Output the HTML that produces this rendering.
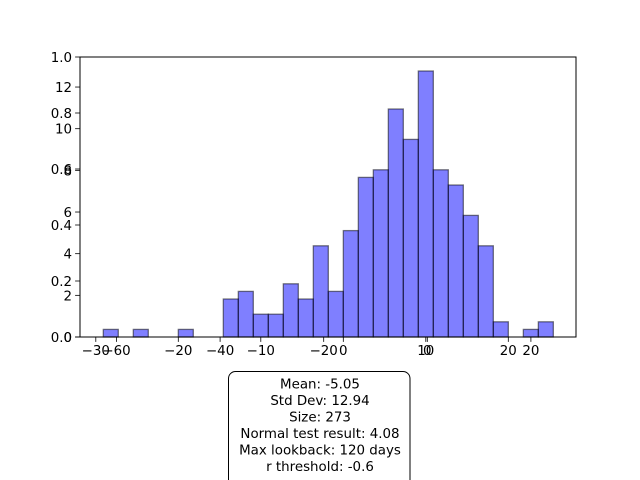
<!DOCTYPE html>
<html><head><meta charset="utf-8"><style>
html,body{margin:0;padding:0;background:#fff;}
svg{display:block;font-family:"DejaVu Sans","Liberation Sans",sans-serif;}
</style></head><body>
<svg id="chart" width="640" height="480" viewBox="0 0 640 480">
<rect x="0" y="0" width="640" height="480" fill="#fff"/>
<g id="bars"></g>
<g id="axes"></g>
<g>
<rect x="228.5" y="371.5" width="181.5" height="116" rx="7" fill="#fff" stroke="#000" stroke-width="1"/>
<g font-size="13.4" text-anchor="middle" fill="#000">
<text x="320" y="388.3">Mean: -5.05</text>
<text x="320" y="405">Std Dev: 12.94</text>
<text x="320" y="421.7">Size: 273</text>
<text x="320" y="438">Normal test result: 4.08</text>
<text x="320" y="454.3">Max lookback: 120 days</text>
<text x="320" y="471">r threshold: -0.6</text>
</g></g>
</svg>
<script>
// histogram data
const binStart = -62.55;
const binWidth = 2.896;
const counts = [1,0,1,0,0,1,0,0,5,6,3,3,7,5,12,6,14,21,22,30,26,35,22,20,16,12,2,0,1,2];
// axis tick labels
const xTicksA = [-30,-20,-10,0,10,20];
const xTicksB = [-60,-40,-20,0,20];
const yTicksFrac = [0.0,0.2,0.4,0.6,0.8,1.0];
const yTicksCount = [0,2,4,6,8,10,12];

const L=80,R=576,T=57,B=337;
const NS='http://www.w3.org/2000/svg';
function xB(v){return 427.3+v*5.18;}
function xA(v){return 343.3+v*8.25;}
function yC(v){return B-v*7.6;}     // hist count axis
function yF(v){return B-v*(B-T);}   // 0..1 axis
function yN(v){return B-v*20.83;}   // 0..12 axis
function mk(tag,attrs,parent){const e=document.createElementNS(NS,tag);for(const k in attrs)e.setAttribute(k,attrs[k]);parent.appendChild(e);return e;}

const gb=document.getElementById('bars');
counts.forEach((c,i)=>{
  if(c<=0)return;
  const x0=xB(binStart+i*binWidth),x1=xB(binStart+(i+1)*binWidth);
  const r=mk('rect',{x:x0,y:yC(c),width:x1-x0,height:B-yC(c),fill:'rgba(0,0,255,0.5)',stroke:'rgba(0,0,0,0.5)','stroke-width':1.3},gb);
  
  
});

const ga=document.getElementById('axes');
const frame=mk('rect',{x:L,y:T,width:R-L,height:B-T,fill:'none',stroke:'#000','stroke-width':1},ga);



function xtick(px,label){
  mk('line',{x1:px,y1:B,x2:px,y2:B+4.9,stroke:'#000','stroke-width':0.8},ga);
  const t=mk('text',{x:px,y:B+18,'font-size':13.4,'text-anchor':'middle'},ga);
  t.textContent=label;
  
  
}
function ytick(py,label){
  mk('line',{x1:L,y1:py,x2:L-4.9,y2:py,stroke:'#000','stroke-width':0.8},ga);
  const t=mk('text',{x:L-8,y:py+5,'font-size':13.4,'text-anchor':'end'},ga);
  t.textContent=label;
  
  
}
const fmt=v=>v<0?'\u2212'+Math.abs(v):String(v);
xTicksA.forEach(v=>xtick(xA(v),fmt(v)));
xTicksB.forEach(v=>xtick(xB(v),fmt(v)));
yTicksFrac.forEach(v=>ytick(yF(v),v.toFixed(1)));
yTicksCount.forEach(v=>ytick(yN(v),String(v)));
</script>
</body></html>
